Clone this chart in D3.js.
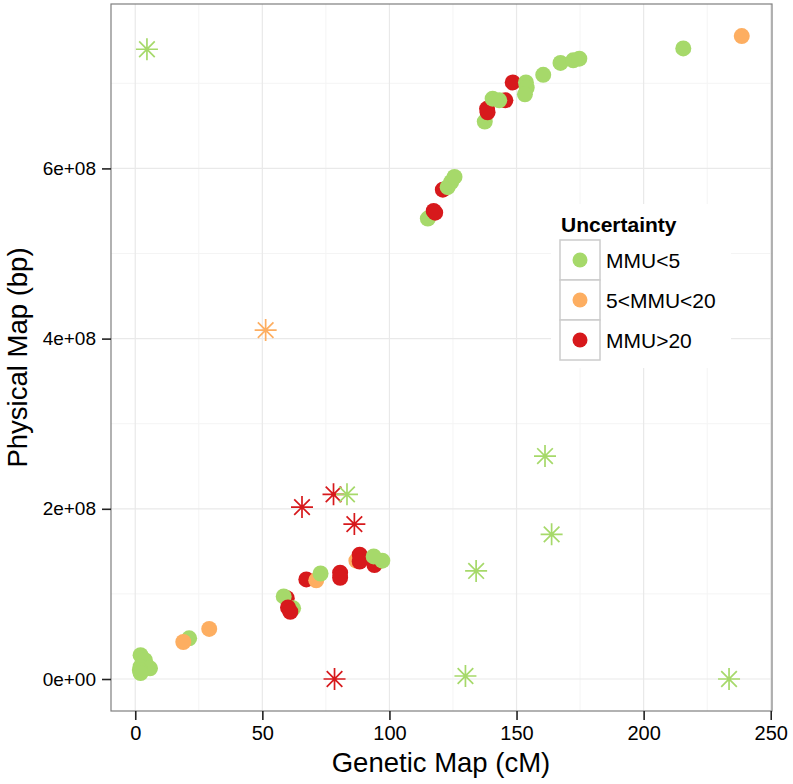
<!DOCTYPE html>
<html>
<head>
<meta charset="utf-8">
<script src="https://cdn.jsdelivr.net/npm/d3@7"></script>
<style>
  html, body { margin: 0; padding: 0; background: #ffffff; }
  svg { display: block; }
  text { font-family: "Liberation Sans", Arial, Helvetica, sans-serif; }
</style>
</head>
<body>
<svg id="chart" width="793" height="784"></svg>
<script>
// ---------------- DATA ----------------
const categories = ["MMU<5", "5<MMU<20", "MMU>20"];
const categoryColors = ["#A6D96A", "#FDAE61", "#D7191C"];

// circles (regular markers): genetic position (cM), physical position (bp), uncertainty class
const circleCM = [2.1, 3.8, 2.1, 5.8, 1.8, 2.1, 21.2, 18.9, 29.1,
  59.6, 58.4, 62.1, 60.1, 61.0, 67.3, 71.2, 72.9, 80.6, 80.6, 87.0, 88.3, 88.3, 94.1, 97.2, 93.8,
  115.1, 117.4, 118.0, 121.0, 122.9, 124.3, 125.6, 137.5, 138.4, 138.6, 140.6, 145.6, 143.2,
  148.5, 153.7, 154.0, 153.3, 160.5, 167.3, 172.3, 174.7, 215.6, 238.6];
const circleBP = [0.28e8, 0.22e8, 0.145e8, 0.125e8, 0.105e8, 0.07e8, 0.478e8, 0.435e8, 0.588e8,
  0.95e8, 0.97e8, 0.83e8, 0.84e8, 0.79e8, 1.17e8, 1.16e8, 1.24e8, 1.25e8, 1.19e8, 1.39e8, 1.46e8, 1.38e8, 1.34e8, 1.39e8, 1.44e8,
  5.41e8, 5.50e8, 5.48e8, 5.75e8, 5.78e8, 5.84e8, 5.90e8, 6.55e8, 6.70e8, 6.66e8, 6.82e8, 6.80e8, 6.80e8,
  7.01e8, 7.01e8, 6.95e8, 6.87e8, 7.10e8, 7.24e8, 7.27e8, 7.29e8, 7.41e8, 7.555e8];
const circleCat = ["MMU<5", "MMU<5", "MMU<5", "MMU<5", "MMU<5", "MMU<5", "MMU<5", "5<MMU<20", "5<MMU<20",
  "MMU>20", "MMU<5", "MMU<5", "MMU>20", "MMU>20", "MMU>20", "5<MMU<20", "MMU<5", "MMU>20", "MMU>20", "5<MMU<20", "MMU>20", "MMU>20", "MMU>20", "MMU<5", "MMU<5",
  "MMU<5", "MMU>20", "MMU>20", "MMU>20", "MMU<5", "MMU<5", "MMU<5", "MMU<5", "MMU>20", "MMU>20", "MMU<5", "MMU>20", "MMU<5",
  "MMU>20", "MMU<5", "MMU<5", "MMU<5", "MMU<5", "MMU<5", "MMU<5", "MMU<5", "MMU<5", "5<MMU<20"];

// asterisks (outlying markers)
const starCM = [4.6, 51.3, 65.6, 78.0, 83.3, 86.2, 78.4, 161.2, 163.8, 134.1, 129.9, 233.6];
const starBP = [7.40e8, 4.10e8, 2.02e8, 2.17e8, 2.17e8, 1.82e8, 0, 2.62e8, 1.70e8, 1.27e8, 0.035e8, 0];
const starCat = ["MMU<5", "5<MMU<20", "MMU>20", "MMU>20", "MMU<5", "MMU>20", "MMU>20", "MMU<5", "MMU<5", "MMU<5", "MMU<5", "MMU<5"];

const xTicks = [0, 50, 100, 150, 200, 250];
const xMinorTicks = [25, 75, 125, 175, 225];
const yTicks = [0, 2e8, 4e8, 6e8];
const yTickLabels = ["0e+00", "2e+08", "4e+08", "6e+08"];
const yMinorTicks = [1e8, 3e8, 5e8, 7e8];
const xTitle = "Genetic Map (cM)";
const yTitle = "Physical Map (bp)";
const legendTitle = "Uncertainty";

// ---------------- DRAW ----------------
const svg = d3.select("#chart");
const panel = { left: 111, right: 772, top: 4, bottom: 711 };

const x = d3.scaleLinear().domain([-9.54, 250.5]).range([panel.left, panel.right]);
const y = d3.scaleLinear().domain([-0.376e8, 7.932e8]).range([panel.bottom, panel.top]);
const color = d3.scaleOrdinal().domain(categories).range(categoryColors);

svg.append("rect").attr("x", 0).attr("y", 0).attr("width", 793).attr("height", 784).attr("fill", "#fff");

// grid
const grid = svg.append("g");
grid.selectAll(".vminor").data(xMinorTicks).join("line")
  .attr("x1", d => x(d)).attr("x2", d => x(d)).attr("y1", panel.top).attr("y2", panel.bottom)
  .attr("stroke", "#f4f4f4").attr("stroke-width", 1);
grid.selectAll(".hminor").data(yMinorTicks).join("line")
  .attr("y1", d => y(d)).attr("y2", d => y(d)).attr("x1", panel.left).attr("x2", panel.right)
  .attr("stroke", "#f4f4f4").attr("stroke-width", 1);
grid.selectAll(".vmajor").data(xTicks).join("line")
  .attr("x1", d => x(d)).attr("x2", d => x(d)).attr("y1", panel.top).attr("y2", panel.bottom)
  .attr("stroke", "#e9e9e9").attr("stroke-width", 1.2);
grid.selectAll(".hmajor").data(yTicks).join("line")
  .attr("y1", d => y(d)).attr("y2", d => y(d)).attr("x1", panel.left).attr("x2", panel.right)
  .attr("stroke", "#e9e9e9").attr("stroke-width", 1.2);

// legend background (drawn over grid, under points)
const lg = { x: 551, y: 204, w: 180, h: 164 };
svg.append("rect").attr("x", lg.x).attr("y", lg.y).attr("width", lg.w).attr("height", lg.h).attr("fill", "#fff");

// points
const circles = circleCM.map((c, i) => ({ cm: c, bp: circleBP[i], cat: circleCat[i] }));
svg.append("g").selectAll("circle").data(circles).join("circle")
  .attr("cx", d => x(d.cm)).attr("cy", d => y(d.bp)).attr("r", 8)
  .attr("fill", d => color(d.cat));

const stars = starCM.map((c, i) => ({ cm: c, bp: starBP[i], cat: starCat[i] }));
const starPath = (() => {
  const a = 11, b = 7.8;
  return `M0,${-a}L0,${a}M${-a},0L${a},0M${-b},${-b}L${b},${b}M${-b},${b}L${b},${-b}`;
})();
svg.append("g").selectAll("path").data(stars).join("path")
  .attr("transform", d => `translate(${x(d.cm)},${y(d.bp)})`)
  .attr("d", starPath).attr("fill", "none")
  .attr("stroke", d => color(d.cat)).attr("stroke-width", 1.7);

// panel border
svg.append("rect").attr("x", panel.left).attr("y", panel.top)
  .attr("width", panel.right - panel.left).attr("height", panel.bottom - panel.top)
  .attr("fill", "none").attr("stroke", "#7f7f7f").attr("stroke-width", 1.2);

// axes
const xAxis = d3.axisBottom(x).tickValues(xTicks).tickSizeInner(9).tickSizeOuter(0).tickPadding(6);
const gx = svg.append("g").attr("transform", `translate(0,${panel.bottom})`).call(xAxis);
gx.select(".domain").remove();
gx.selectAll(".tick line").attr("stroke", "#222").attr("stroke-width", 1.6);
gx.selectAll(".tick text").attr("font-size", 20).attr("fill", "#000")
  .attr("font-family", "'Liberation Sans', Arial, sans-serif");

const yAxis = d3.axisLeft(y).tickValues(yTicks).tickFormat((d, i) => yTickLabels[i])
  .tickSizeInner(9).tickSizeOuter(0).tickPadding(6);
const gy = svg.append("g").attr("transform", `translate(${panel.left},0)`).call(yAxis);
gy.select(".domain").remove();
gy.selectAll(".tick line").attr("stroke", "#222").attr("stroke-width", 1.6);
gy.selectAll(".tick text").attr("font-size", 19).attr("fill", "#000")
  .attr("font-family", "'Liberation Sans', Arial, sans-serif");

// axis titles
svg.append("text").attr("x", (panel.left + panel.right) / 2 - 0.5).attr("y", 772)
  .attr("text-anchor", "middle").attr("font-size", 27.5).attr("fill", "#000").text(xTitle);
svg.append("text").attr("transform", `translate(27,${(panel.top + panel.bottom) / 2}) rotate(-90)`)
  .attr("text-anchor", "middle").attr("font-size", 27.5).attr("fill", "#000").text(yTitle);

// legend
const lgG = svg.append("g");
lgG.append("text").attr("x", 561).attr("y", 232).attr("font-size", 21).attr("font-weight", "bold")
  .attr("fill", "#000").text(legendTitle);
const keys = lgG.selectAll(".key").data(categories).join("g")
  .attr("transform", (d, i) => `translate(560,${240 + i * 40})`);
keys.append("rect").attr("width", 40).attr("height", 40).attr("fill", "#fff")
  .attr("stroke", "#cccccc").attr("stroke-width", 1.5);
keys.append("circle").attr("cx", 20).attr("cy", 20).attr("r", 7.5).attr("fill", d => color(d));
keys.append("text").attr("x", 46).attr("y", 20).attr("dy", "0.36em").attr("font-size", 21)
  .attr("fill", "#000").text(d => d);
</script>
</body>
</html>
